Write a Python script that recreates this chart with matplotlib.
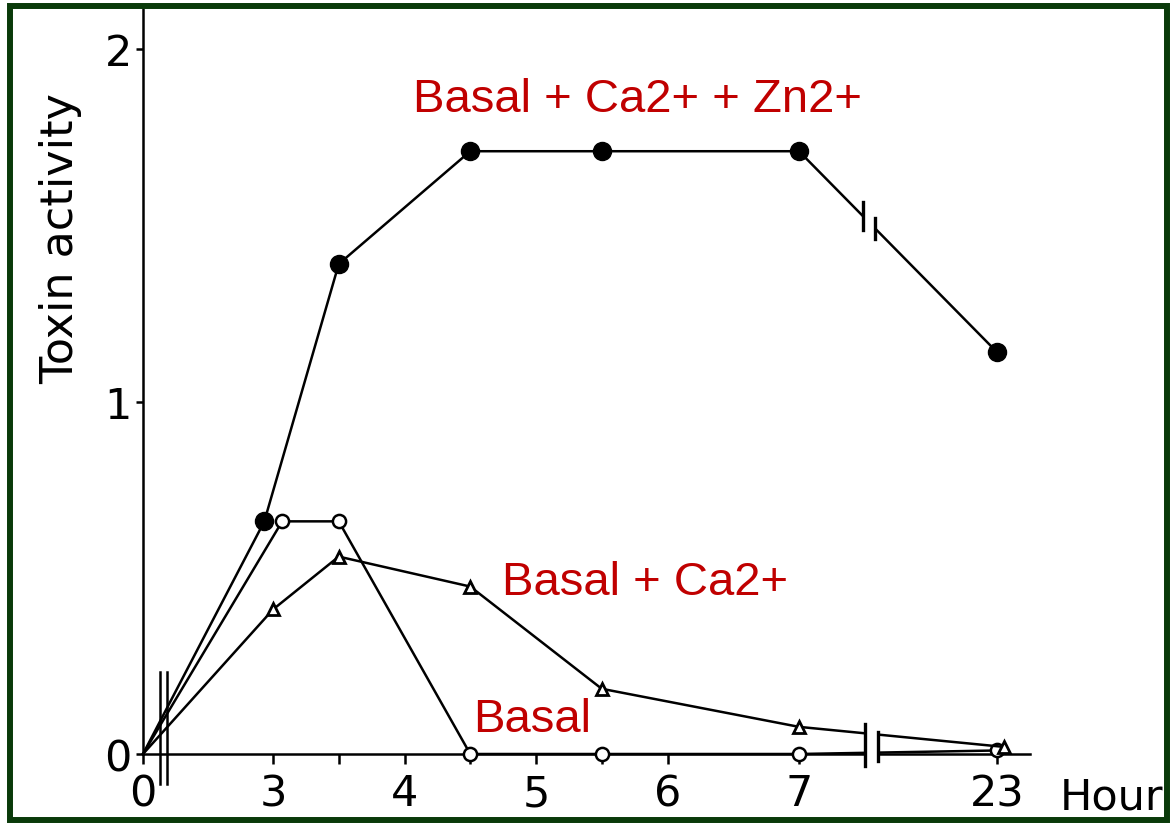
import numpy as np
import matplotlib
matplotlib.use("Agg")
import matplotlib.pyplot as plt
from matplotlib.patches import Rectangle

# ---------------- data ----------------
hours_zn = [0, 2.8, 3.5, 4.5, 5.5, 7, 23]
tox_zn = [0, 0.66, 1.39, 1.71, 1.71, 1.71, 1.14]

hours_basal = [0, 3.07, 3.5, 4.5, 5.5, 7, 23]
tox_basal = [0, 0.66, 0.66, 0.0, 0.0, 0.0, 0.01]

hours_ca = [0, 3.0, 3.5, 4.5, 5.5, 7, 23.6]
tox_ca = [0, 0.41, 0.56, 0.475, 0.185, 0.077, 0.02]

xtick_pos = [0, 3, 3.5, 4, 4.5, 5, 5.5, 6, 7, 23]
xtick_lab = ["0", "3", "", "4", "", "5", "", "6", "7", "23"]
ytick_pos = [0, 1, 2]
ytick_lab = ["0", "1", "2"]

label_zn = "Basal + Ca2+ + Zn2+"
label_ca = "Basal + Ca2+"
label_basal = "Basal"

# ------------- broken time scale -------------
H_NODES = np.array([-100.0, 0.0, 3.0, 7.0, 23.0, 200.0])
P_NODES = np.array([0.0 - 100 * 130 / 3, 0.0, 130.0, 656.0, 854.0, 854.0 + 177 * 12.375])


def fwd(h):
    return np.interp(np.asarray(h, float), H_NODES, P_NODES)


def inv(p):
    return np.interp(np.asarray(p, float), P_NODES, H_NODES)


W, H = 1176, 828
fig = plt.figure(figsize=(W / 100, H / 100), dpi=100)
fig.patch.set_facecolor("white")

ax = fig.add_axes([143 / W, 73 / H, (1030 - 143) / W, (755 - 10) / H])
ax.set_xscale("function", functions=(fwd, inv))
ax.set_xlim(0, float(inv(887)))
ax.set_ylim(0, 745 / 352.5)

for s in ("top", "right"):
    ax.spines[s].set_visible(False)
for s in ("left", "bottom"):
    ax.spines[s].set_linewidth(1.8)
    ax.spines[s].set_color("black")

lw = 1.8
ax.plot(hours_zn, tox_zn, color="black", lw=lw, marker="o", ms=13,
        mfc="black", mec="black", zorder=4, clip_on=False,
        markevery=list(range(1, len(hours_zn))))
ax.plot(hours_basal, tox_basal, color="black", lw=lw, marker="o", ms=9.5,
        mfc="white", mec="black", mew=1.8, zorder=5, clip_on=False,
        markevery=list(range(1, len(hours_basal))))
ax.plot(hours_ca, tox_ca, color="black", lw=lw, marker="^", ms=9,
        mfc="white", mec="black", mew=2.0, zorder=5, clip_on=False,
        markevery=list(range(1, len(hours_ca))))

ax.set_xticks(xtick_pos)
ax.set_xticklabels(xtick_lab)
ax.set_yticks(ytick_pos)
ax.set_yticklabels(ytick_lab)
ax.xaxis.set_minor_locator(matplotlib.ticker.NullLocator())
ax.tick_params(axis="x", direction="out", length=7, width=1.8, pad=6,
               labelsize=31, colors="black")
ax.tick_params(axis="y", direction="out", length=5, width=1.8, pad=3,
               labelsize=31, colors="black")
for t in ax.get_xticklabels() + ax.get_yticklabels():
    t.set_fontfamily("DejaVu Sans")

# ------------- break symbols -------------
px_per_unit = 352.5


def y_on(hx, hy, h):
    return float(np.interp(fwd(h), fwd(hx), hy))


# near origin on axis
for bx in (inv(17), inv(24)):
    ax.plot([bx, bx], [-30 / px_per_unit, 82 / px_per_unit], color="black",
            lw=1.8, zorder=6, clip_on=False)

# axis break between 7 and 23
b1, b2 = float(inv(722)), float(inv(735))
ax.add_patch(Rectangle((b1, -0.02), b2 - b1, 0.12, facecolor="white",
                       edgecolor="none", zorder=6, clip_on=False))
ax.plot([b1, b1], [-12 / px_per_unit, 30 / px_per_unit], color="black",
        lw=2.4, zorder=7, clip_on=False)
ax.plot([b2, b2], [-7 / px_per_unit, 22 / px_per_unit], color="black",
        lw=2.4, zorder=7, clip_on=False)

# break on the Zn line
c1, c2 = float(inv(720)), float(inv(732))
yc1, yc2 = y_on(hours_zn, tox_zn, c1), y_on(hours_zn, tox_zn, c2)
ax.plot([c1, c2], [yc1, yc2], color="white", lw=4.5, zorder=6,
        solid_capstyle="butt")
ax.plot([c1, c1], [yc1 - 0.04, yc1 + 0.04], color="black", lw=2.4, zorder=7)
ax.plot([c2, c2], [yc2 - 0.03, yc2 + 0.03], color="black", lw=2.4, zorder=7)

# ------------- texts -------------
def ftext(x, y, s, **kw):
    fig.text(x / W, 1 - y / H, s, **kw)


red = "#c00000"
ftext(413, 112, label_zn, color=red, fontsize=34, family="Liberation Sans",
      ha="left", va="baseline")
ftext(502, 595, label_ca, color=red, fontsize=34, family="Liberation Sans",
      ha="left", va="baseline")
ftext(473, 732, label_basal, color=red, fontsize=34, family="Liberation Sans",
      ha="left", va="baseline")

ftext(1060, 810, "Hour", color="black", fontsize=31, family="DejaVu Sans",
      ha="left", va="baseline")
ftext(73, 239, "Toxin activity", color="black", fontsize=32,
      family="DejaVu Sans", rotation=90, rotation_mode="anchor",
      ha="center", va="baseline")

# ------------- green frame -------------
fig.patches.append(Rectangle((10 / W, 7 / H), (1167 - 10) / W, (821 - 7) / H,
                             transform=fig.transFigure, fill=False,
                             edgecolor="#0a3a0a", linewidth=4.3, zorder=10))

fig.savefig("out.png", dpi=100, facecolor="white")
